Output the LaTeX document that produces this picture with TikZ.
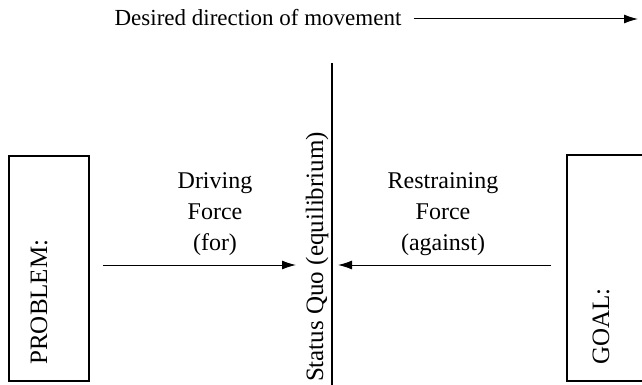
\documentclass[tikz,border=0pt]{standalone}
\usepackage{fontspec}
\setmainfont{Liberation Serif}
\usetikzlibrary{arrows.meta, positioning}

\begin{document}
\begin{tikzpicture}[
		x=0.5pt, y=-0.5pt,
		%inner sep=0pt,
		force label/.style={font=\fontsize{12}{15.5}\selectfont, align=center, inner sep=0pt},
		side label/.style={font=\fontsize{12.5}{15}\selectfont, rotate=90, anchor=base west, inner sep=0pt},
		force/.style={-{Latex[length=7pt, width=4.5pt]}, line width=0.5pt},
		frame/.style={line width=0.8pt}
		]
		\useasboundingbox (0, 0) rectangle (642, 385);
		\clip (0, 0) rectangle (642, 385);
		% direction of movement
		\node (direction) at (258, 18) [font=\fontsize{11.5}{14}\selectfont, inner sep=0pt] {Desired direction of movement};
		\coordinate (direction end) at (638, 19);
		\draw[force] ([xshift=6pt, yshift=-0.5pt] direction.east) -- (direction end);
		% status quo
		\coordinate (quo top) at (332, 63);
		\coordinate (quo bottom) at (332, 386);
		\draw[line width=0.6pt] (quo top) -- (quo bottom);
		\node (status quo) at (323, 257) [font=\fontsize{12.5}{15}\selectfont, rotate=90, anchor=base, inner sep=0pt] {Status Quo (equilibrium)};
		% boxes
		\draw[frame] (9, 156) rectangle (89, 381);
		\draw[frame] (567, 155) rectangle (680, 381);
		\node (problem) at (47, 365) [side label] {PROBLEM:};
		\node (goal) at (609, 365) [side label] {GOAL:};
		% forces
		\node (driving) at (215, 214) [force label] {Driving\\Force\\(for)};
		\node (restraining) at (443, 214) [force label] {Restraining\\Force\\(against)};
		\coordinate (driving tail) at (103, 265);
		\coordinate (driving head) at (296, 265);
		\coordinate (restraining tail) at (551, 265);
		\coordinate (restraining head) at (338, 265);
		\draw[force] (driving tail) -- (driving head);
		\draw[force] (restraining tail) -- (restraining head);
	\end{tikzpicture}
\end{document}
